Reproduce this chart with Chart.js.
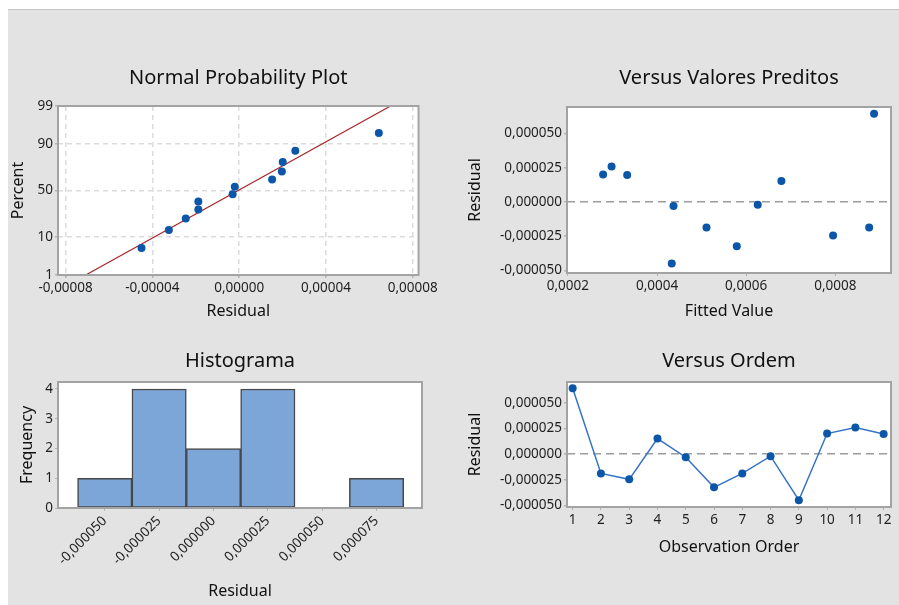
<!DOCTYPE html>
<html>
<head>
<meta charset="utf-8">
<script src="https://cdn.jsdelivr.net/npm/chart.js@4.4.1/dist/chart.umd.min.js"></script>
<style>
  html, body { margin: 0; padding: 0; background: #fff; }
  body { width: 899px; height: 605px; position: relative; overflow: hidden; }
  #bg { position: absolute; left: 8px; top: 9px; right: 0; bottom: 0; background: #e3e3e3; border-top: 1px solid #c4c4c4; }
  canvas { position: absolute; }
</style>
</head>
<body>
<div id="bg"></div>
<canvas id="npp" width="440" height="270" style="left:0;top:60px"></canvas>
<canvas id="fits" width="459" height="270" style="left:440px;top:60px"></canvas>
<canvas id="hist" width="440" height="265" style="left:0;top:340px"></canvas>
<canvas id="order" width="459" height="265" style="left:440px;top:340px"></canvas>
<script>
// residuals in observation order, with the fitted value of each run
const observation = [1, 2, 3, 4, 5, 6, 7, 8, 9, 10, 11, 12];
const residuals = [0.0000644, -0.0000188, -0.0000246, 0.0000152, -0.0000030, -0.0000324,
                   -0.0000188, -0.0000020, -0.0000450, 0.0000201, 0.0000259, 0.0000197];
const fitted = [0.000887, 0.000876, 0.000795, 0.000679, 0.000437, 0.000579,
                0.000511, 0.000626, 0.000433, 0.000279, 0.000298, 0.000333];

// normal probability plot (percent, residuals in ascending order)
const npPercent = [5.7, 13.9, 22, 30, 38, 46, 54, 62, 70, 78.4, 86.3, 94.3];
const npResidual = [...residuals].sort((a, b) => a - b);
const fitLineX = [-0.0000707, 0.0000698];
const fitLineP = [1, 99];
const nppXTicks = [-0.00008, -0.00004, 0, 0.00004, 0.00008];
const nppXLabels = ['-0,00008', '-0,00004', '0,00000', '0,00004', '0,00008'];
const nppYTicks = [1, 10, 50, 90, 99];

// histogram
const binCenters = [-0.00005, -0.000025, 0, 0.000025, 0.00005, 0.000075];
const binCounts = [1, 4, 2, 4, 0, 1];
const binLabels = ['-0,000050', '-0,000025', '0,000000', '0,000025', '0,000050', '0,000075'];
const freqTicks = [0, 1, 2, 3, 4];

// residual axis shared by the two "versus" plots
const residTicks = [-0.00005, -0.000025, 0, 0.000025, 0.00005];
const residLabels = ['-0,000050', '-0,000025', '0,000000', '0,000025', '0,000050'];
const fitTicks = [0.0002, 0.0004, 0.0006, 0.0008];
const fitLabels = ['0,0002', '0,0004', '0,0006', '0,0008'];

const FONT = "'Noto Sans', 'Open Sans', sans-serif";
const TEXT = '#1e1e1e';
const BLUE = '#0b56a8';

// inverse normal cdf (Acklam), used for the probability axis
function probit(p) {
  const a = [-39.69683028665376, 220.9460984245205, -275.9285104469687, 138.3577518672690, -30.66479806614716, 2.506628277459239];
  const b = [-54.47609879822406, 161.5858368580409, -155.6989798598866, 66.80131188771972, -13.28068155288572];
  const c = [-0.007784894002430293, -0.3223964580411365, -2.400758277161838, -2.549732539343734, 4.374664141464968, 2.938163982698783];
  const d = [0.007784695709041462, 0.3224671290700398, 2.445134137142996, 3.754408661907416];
  const lo = 0.02425;
  if (p < lo) {
    const q = Math.sqrt(-2 * Math.log(p));
    return (((((c[0]*q+c[1])*q+c[2])*q+c[3])*q+c[4])*q+c[5]) / ((((d[0]*q+d[1])*q+d[2])*q+d[3])*q+1);
  }
  if (p > 1 - lo) {
    const q = Math.sqrt(-2 * Math.log(1 - p));
    return -(((((c[0]*q+c[1])*q+c[2])*q+c[3])*q+c[4])*q+c[5]) / ((((d[0]*q+d[1])*q+d[2])*q+d[3])*q+1);
  }
  const q = p - 0.5, r = q * q;
  return (((((a[0]*r+a[1])*r+a[2])*r+a[3])*r+a[4])*r+a[5])*q / (((((b[0]*r+b[1])*r+b[2])*r+b[3])*r+b[4])*r+1);
}

class ProbabilityScale extends Chart.LinearScale {
  getPixelForValue(value) {
    if (value === null || value === undefined) return NaN;
    const z0 = probit(this.min / 100), z1 = probit(this.max / 100);
    return this.getPixelForDecimal((probit(value / 100) - z0) / (z1 - z0));
  }
  getValueForPixel(pixel) {
    const z0 = probit(this.min / 100), z1 = probit(this.max / 100);
    const z = z0 + this.getDecimalForPixel(pixel) * (z1 - z0);
    // crude inverse via bisection
    let lo = 0.0001, hi = 0.9999;
    for (let i = 0; i < 40; i++) { const m = (lo + hi) / 2; if (probit(m) < z) lo = m; else hi = m; }
    return lo * 100;
  }
}
ProbabilityScale.id = 'probability';
ProbabilityScale.defaults = {};
Chart.register(ProbabilityScale);

// white plot area + grey frame
const framePlugin = {
  id: 'frame',
  beforeDraw(chart) {
    const { ctx, chartArea: a } = chart;
    ctx.save();
    ctx.fillStyle = '#fff';
    ctx.fillRect(a.left, a.top, a.right - a.left, a.bottom - a.top);
    ctx.restore();
  },
  afterDraw(chart) {
    const { ctx, chartArea: a } = chart;
    ctx.save();
    ctx.strokeStyle = '#a3a3a3';
    ctx.lineWidth = 2;
    ctx.strokeRect(a.left, a.top, a.right - a.left, a.bottom - a.top);
    ctx.restore();
  }
};

const fixTicks = (vals) => (axis) => { axis.ticks = vals.map(v => ({ value: v })); };

function titleOpts(text, top, bottom) {
  return { display: true, text, fullSize: false, color: '#111',
           font: { family: FONT, size: 20, weight: 'normal' }, padding: { top, bottom } };
}
function axisTitle(text, pad) {
  return { display: true, text, color: '#111', font: { family: FONT, size: 16 }, padding: pad };
}
function tickOpts(labels, extra) {
  return Object.assign({ color: TEXT, font: { family: FONT, size: 13.5 }, padding: 2,
    autoSkip: false, maxRotation: 0, minRotation: 0,
    callback: (v, i) => labels[i] }, extra || {});
}
const noGrid = { drawOnChartArea: false, drawTicks: true, tickLength: 3, tickColor: '#b4b4b4' };
const zeroGrid = {
  drawOnChartArea: true, drawTicks: true, tickLength: 3, tickColor: '#b4b4b4', lineWidth: 1.5,
  color: (c) => (c.tick && c.tick.value === 0 ? '#9c9c9c' : 'rgba(0,0,0,0)')
};
const base = {
  responsive: false, animation: false, devicePixelRatio: 1,
  plugins: { legend: { display: false }, tooltip: { enabled: false } }
};

// --- Normal Probability Plot ---
new Chart(document.getElementById('npp'), {
  type: 'scatter',
  data: {
    datasets: [
      { data: npResidual.map((r, i) => ({ x: r, y: npPercent[i] })),
        backgroundColor: BLUE, borderColor: BLUE, pointRadius: 4, pointBorderWidth: 0 },
      { data: fitLineX.map((x, i) => ({ x, y: fitLineP[i] })), showLine: true,
        borderColor: '#a8262a', borderWidth: 1.2, pointRadius: 0 }
    ]
  },
  options: Object.assign({}, base, {
    layout: { padding: { left: 0, right: 18, top: 0, bottom: 0 } },
    plugins: Object.assign({}, base.plugins, { title: titleOpts('Normal Probability Plot', 6, 16) }),
    scales: {
      x: { type: 'linear', min: -0.0000835, max: 0.0000827,
           afterBuildTicks: fixTicks(nppXTicks), afterFit: (s) => { s.height = 55; },
           ticks: tickOpts(nppXLabels),
           grid: { color: '#dcdcdc', lineWidth: 1.5, tickLength: 3, tickColor: '#b4b4b4' },
           border: { display: false, dash: [5, 4] },
           title: axisTitle('Residual', { top: 0, bottom: 8.9 }) },
      y: { type: 'probability', min: 1, max: 99,
           afterBuildTicks: fixTicks(nppYTicks), afterFit: (s) => { s.width = 58; },
           ticks: tickOpts(nppYTicks.map(String)),
           grid: { color: '#dcdcdc', lineWidth: 1.5, tickLength: 3, tickColor: '#b4b4b4' },
           border: { display: false, dash: [5, 4] },
           title: axisTitle('Percent', { top: 8.7, bottom: 0 }) }
    }
  }),
  plugins: [framePlugin]
});

// --- Versus Valores Preditos ---
new Chart(document.getElementById('fits'), {
  type: 'scatter',
  data: {
    datasets: [{ data: fitted.map((f, i) => ({ x: f, y: residuals[i] })),
      backgroundColor: BLUE, borderColor: BLUE, pointRadius: 4, pointBorderWidth: 0 }]
  },
  options: Object.assign({}, base, {
    layout: { padding: { left: 0, right: 8, top: 0, bottom: 0 } },
    plugins: Object.assign({}, base.plugins, { title: titleOpts('Versus Valores Preditos', 6, 17) }),
    scales: {
      x: { type: 'linear', min: 0.000198, max: 0.000925,
           afterBuildTicks: fixTicks(fitTicks), afterFit: (s) => { s.height = 57; },
           ticks: tickOpts(fitLabels), grid: noGrid, border: { display: false },
           title: axisTitle('Fitted Value', { top: 0, bottom: 9.4 }) },
      y: { type: 'linear', min: -0.000052, max: 0.0000694,
           afterBuildTicks: fixTicks(residTicks), afterFit: (s) => { s.width = 127; },
           ticks: tickOpts(residLabels), grid: zeroGrid, border: { display: false, dash: [8, 5] },
           title: axisTitle('Residual', { top: 25.9, bottom: 0 }) }
    }
  }),
  plugins: [framePlugin]
});

// --- Histograma ---
new Chart(document.getElementById('hist'), {
  type: 'bar',
  data: {
    datasets: [{ data: binCenters.map((c, i) => ({ x: c, y: binCounts[i] })),
      backgroundColor: '#7ca5d8', borderColor: '#474747', borderWidth: 1.5, borderSkipped: false,
      barPercentage: 1, categoryPercentage: 1 }]
  },
  options: Object.assign({}, base, {
    layout: { padding: { left: 0, right: 18, top: 0, bottom: 0 } },
    plugins: Object.assign({}, base.plugins, { title: titleOpts('Histograma', 9, 9) }),
    scales: {
      x: { type: 'linear', offset: false, min: -0.0000715, max: 0.0000959,
           afterBuildTicks: fixTicks(binCenters), afterFit: (s) => { s.height = 97; },
           ticks: tickOpts(binLabels, { maxRotation: 45, minRotation: 45 }),
           grid: Object.assign({ offset: false }, noGrid), border: { display: false },
           title: axisTitle('Residual', { top: 0, bottom: 4.4 }) },
      y: { type: 'linear', min: 0, max: 4.235,
           afterBuildTicks: fixTicks(freqTicks), afterFit: (s) => { s.width = 58; },
           ticks: tickOpts(freqTicks.map(String)), grid: noGrid, border: { display: false },
           title: axisTitle('Frequency', { top: 17.4, bottom: 0 }) }
    }
  }),
  plugins: [framePlugin]
});

// --- Versus Ordem ---
new Chart(document.getElementById('order'), {
  type: 'line',
  data: {
    datasets: [{ data: observation.map((o, i) => ({ x: o, y: residuals[i] })),
      borderColor: '#3473c4', borderWidth: 1.5, backgroundColor: BLUE,
      pointBackgroundColor: BLUE, pointBorderWidth: 0, pointRadius: 4, tension: 0 }]
  },
  options: Object.assign({}, base, {
    layout: { padding: { left: 0, right: 8, top: 0, bottom: 0 } },
    plugins: Object.assign({}, base.plugins, { title: titleOpts('Versus Ordem', 9, 9) }),
    scales: {
      x: { type: 'linear', min: 0.8, max: 12.26,
           afterBuildTicks: fixTicks(observation), afterFit: (s) => { s.height = 98; },
           ticks: tickOpts(observation.map(String)), grid: noGrid, border: { display: false },
           title: axisTitle('Observation Order', { top: 0, bottom: 47.9 }) },
      y: { type: 'linear', min: -0.0000516, max: 0.0000704,
           afterBuildTicks: fixTicks(residTicks), afterFit: (s) => { s.width = 127; },
           ticks: tickOpts(residLabels), grid: zeroGrid, border: { display: false, dash: [8, 5] },
           title: axisTitle('Residual', { top: 25.9, bottom: 0 }) }
    }
  }),
  plugins: [framePlugin]
});
</script>
</body>
</html>
